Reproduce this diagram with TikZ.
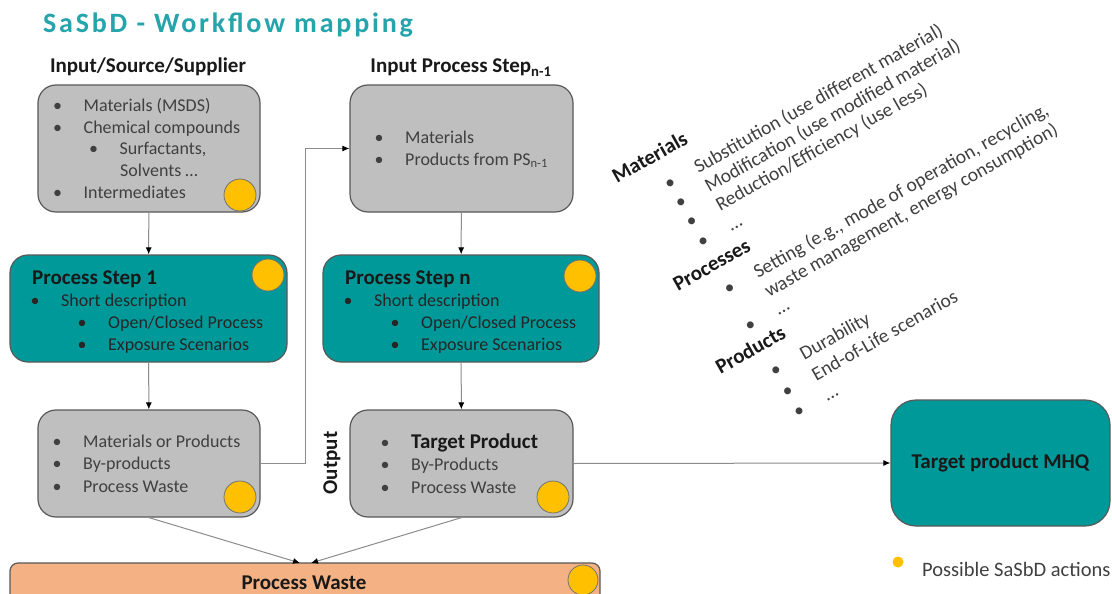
\documentclass[tikz,border=0pt]{standalone}
\usepackage{fontspec}
\setmainfont{Carlito}
\newfontfamily\titlefont[LetterSpace=10]{Carlito}
\usetikzlibrary{arrows.meta}

\definecolor{boxgrey}{RGB}{191,191,191}
\definecolor{stepteal}{RGB}{0,153,153}
\definecolor{wastepeach}{RGB}{244,177,131}
\definecolor{actiongold}{RGB}{255,192,0}
\definecolor{titleteal}{RGB}{38,164,172}
\definecolor{textgrey}{RGB}{64,64,64}

% bullet in a box of fixed width, so the item text lines up
\newcommand{\blt}[1][30.5pt]{\makebox[#1][l]{\textbullet}}

\begin{document}
\begin{tikzpicture}[x = 1pt, y = -1pt,
  box/.style = {draw = black!65, line width = 1.2pt, rounded corners = 18pt, inner sep = 0pt},
  greybox/.style = {box, fill = boxgrey},
  tealbox/.style = {box, fill = stepteal},
  action/.style = {circle, draw = black!55, line width = 0.8pt, fill = actiongold, minimum size = 32pt, inner sep = 0pt},
  link/.style = {draw = black!45, line width = 1pt, -{Latex[length = 7pt, width = 6pt, color = black]}},
  txt/.style = {anchor = base west, inner sep = 0pt, text = textgrey, font = \fontsize{18}{22}\selectfont},
  head/.style = {anchor = base, inner sep = 0pt, text = black!90, font = \fontsize{21}{25}\selectfont\bfseries}]
\path [use as bounding box] (0, 0) rectangle (1112, 594);
\clip (0, 0) rectangle (1112, 594);
\fill [white] (0, 0) rectangle (1112, 594);

\node [anchor = base west, inner sep = 0pt, text = titleteal, font = \titlefont\fontsize{28}{32}\selectfont\bfseries] (title) at (43, 33) {SaSbD - Workflow mapping};

% left column
\node [head] (srchead) at (148, 73) {Input/Source/Supplier};
\node [greybox, minimum width = 222pt, minimum height = 127pt] (src) at (149, 148.5) {};
\node [txt] (src1) at (53, 111) {\blt Materials (MSDS)};
\node [txt] (src2) at (53, 133) {\blt Chemical compounds};
\node [txt] (src3) at (89, 154) {\blt Surfactants,};
\node [txt] (src4) at (120, 176) {Solvents …};
\node [txt] (src5) at (53, 198) {\blt Intermediates};
\node [action] (srcdot) at (240, 195) {};

\node [tealbox, minimum width = 277pt, minimum height = 107pt] (ps1) at (148.5, 308.5) {};
\node [head, anchor = base west] (ps1head) at (32, 284) {Process Step 1};
\node [txt, text = black!85] (ps1a) at (30.5, 306) {\blt Short description};
\node [txt, text = black!85] (ps1b) at (77.5, 328) {\blt Open/Closed Process};
\node [txt, text = black!85] (ps1c) at (77.5, 350) {\blt Exposure Scenarios};
\node [action] (ps1dot) at (268, 275) {};

\node [greybox, minimum width = 222pt, minimum height = 107pt] (mat) at (149, 463.5) {};
\node [txt] (mat1) at (52.5, 447) {\blt Materials or Products};
\node [txt] (mat2) at (52.5, 469.5) {\blt By-products};
\node [txt] (mat3) at (52.5, 492) {\blt Process Waste};
\node [action] (matdot) at (240, 497) {};

% right column
\node [head] (inphead) at (461, 73) {Input Process Step\textsubscript{n-1}};
\node [greybox, minimum width = 223pt, minimum height = 127pt] (inps) at (461.5, 148.5) {};
\node [txt] (inp1) at (374.5, 143) {\blt Materials};
\node [txt] (inp2) at (374.5, 165) {\blt Products from PS\textsubscript{n-1}};

\node [tealbox, minimum width = 276pt, minimum height = 107pt] (psn) at (461, 308.5) {};
\node [head, anchor = base west] (psnhead) at (345, 284) {Process Step n};
\node [txt, text = black!85] (psna) at (343.5, 306) {\blt Short description};
\node [txt, text = black!85] (psnb) at (390.5, 328) {\blt Open/Closed Process};
\node [txt, text = black!85] (psnc) at (390.5, 350) {\blt Exposure Scenarios};
\node [action] (psndot) at (580, 276) {};

\node [greybox, minimum width = 223pt, minimum height = 107pt] (out) at (461.5, 463.5) {};
\node [txt] (out1) at (380.5, 448) {\blt{\fontsize{21}{25}\selectfont\bfseries\color{black!90}Target Product}};
\node [txt] (out2) at (380.5, 470.5) {\blt By-Products};
\node [txt] (out3) at (380.5, 493) {\blt Process Waste};
\node [action] (outdot) at (553, 497) {};
\node [head, anchor = center, rotate = 90] (outlabel) at (332, 463) {Output};

% waste and final product
\node [box, rounded corners = 8pt, fill = wastepeach, minimum width = 590pt, minimum height = 57pt] (waste) at (305, 591.5) {};
\node [head] (wastehead) at (304, 589) {Process Waste};
\node [action, minimum size = 30pt] (wastedot) at (583, 580) {};

\node [tealbox, rounded corners = 25pt, minimum width = 219pt, minimum height = 126pt, font = \fontsize{21}{25}\selectfont\bfseries, text = black!90] (mhq) at (1000.5, 463) {Target product MHQ};

% connectors
\coordinate (wl) at (300, 563);
\coordinate (wr) at (311, 563);
\draw [link] (src) -- (ps1);
\draw [link] (ps1) -- (mat);
\draw [link] (inps) -- (psn);
\draw [link] (psn) -- (out);
\draw [link] (mat.east) -- (305, 463.5) |- (inps.west);
\draw [link] (mat.south) -- (wl);
\draw [link] (out.south) -- (wr);
\draw [link] (out.east) -- (mhq.west);

% possible actions, written along a slope
\begin{scope}[shift = {(617, 184)}, rotate = 29.5,
  rhead/.style = {head, anchor = base west, transform shape},
  ritem/.style = {txt, transform shape, font = \fontsize{19.5}{22}\selectfont}]
\node [rhead] (mathead) at (0, 0) {Materials};
\node [ritem] (mat1r) at (41.5, 31) {\blt[34.5pt]Substitution (use different material)};
\node [ritem] (mat2r) at (41.5, 53) {\blt[34.5pt]Modification (use modified material)};
\node [ritem] (mat3r) at (41.5, 75) {\blt[34.5pt]Reduction/Efficiency (use less)};
\node [ritem] (mat4r) at (41.5, 98) {\blt[34.5pt]…};
\node [rhead] (prchead) at (0, 124) {Processes};
\node [ritem] (prc1) at (41.5, 152) {\blt[34.5pt]Setting (e.g., mode of operation, recycling,};
\node [ritem] (prc1b) at (76, 174) {waste management, energy consumption)};
\node [ritem] (prc2) at (41.5, 194) {\blt[34.5pt]…};
\node [rhead] (prdhead) at (-4, 217) {Products};
\node [ritem] (prd1) at (41.5, 246) {\blt[34.5pt]Durability};
\node [ritem] (prd2) at (41.5, 270) {\blt[34.5pt]End-of-Life scenarios};
\node [ritem] (prd3) at (41.5, 293) {\blt[34.5pt]…};
\end{scope}

% legend
\node [circle, fill = actiongold, minimum size = 11pt, inner sep = 0pt] (legdot) at (898, 562) {};
\node [txt, font = \fontsize{20.5}{24}\selectfont] (legtext) at (922, 576) {Possible SaSbD actions};
\end{tikzpicture}
\end{document}
